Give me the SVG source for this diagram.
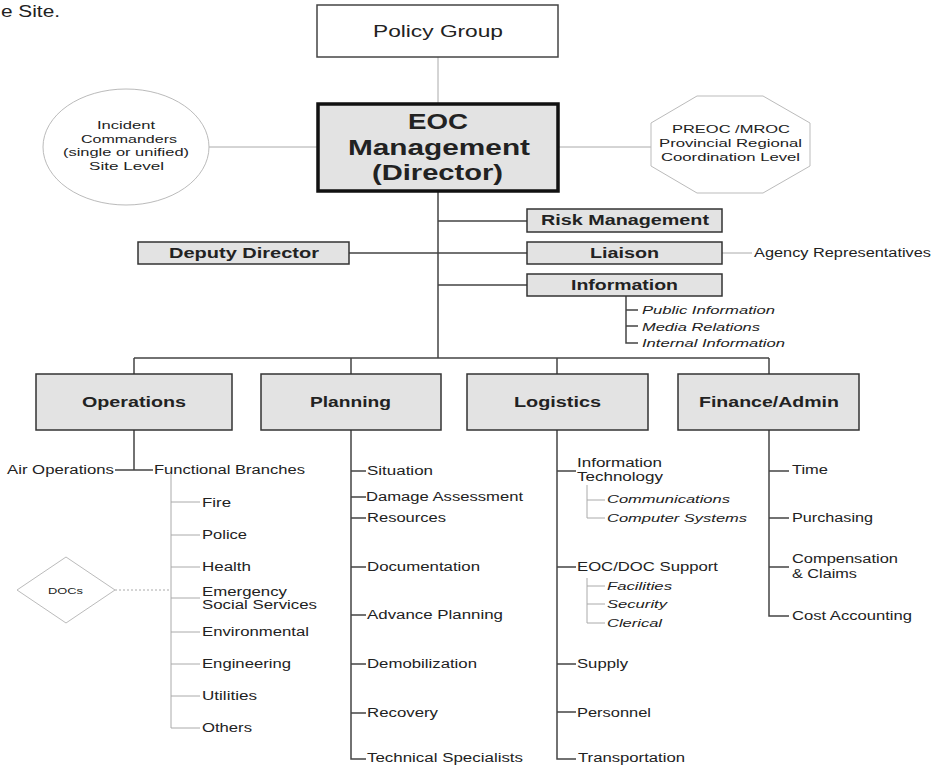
<svg xmlns="http://www.w3.org/2000/svg" width="934" height="766" viewBox="0 0 934 766">
<style>
.box{fill:#e3e3e3;stroke:#333;stroke-width:1.5}
.eoc{fill:#e3e3e3;stroke:#111;stroke-width:3.5}
.wbox{fill:#fff;stroke:#444;stroke-width:1.5}
.shape{fill:#fff;stroke:#bbb;stroke-width:1}
.ln{stroke:#444;stroke-width:1.5;fill:none}
.lt{stroke:#aaa;stroke-width:1;fill:none}
.ld{stroke:#aaa;stroke-width:1;fill:none;stroke-dasharray:2 2}
text{font-family:"Liberation Sans",Arial,sans-serif;font-size:12px;fill:#222}
.b{font-weight:bold;font-size:14px}
.it{font-style:italic;font-size:11.5px}
.sm{font-size:10.5px}
</style>
<rect width="934" height="766" fill="#fff"/>
<text x="1" y="17" style="font-size:16px" textLength="59" lengthAdjust="spacingAndGlyphs">e Site.</text>

<g id="connectors">
<path class="lt" d="M438,57V104M208,147H318M558,147H651M722,253H752"/>
<path class="ln" d="M438,191V358M438,221H527M349,253H527M438,285H527"/>
<path class="ln" d="M626,296V343H638M626,310H638M626,326H638"/>
<path class="ln" d="M134,358H769M134,358V374M351,358V374M557,358V374M769,358V374"/>
<path class="ln" d="M134,430V470M115,470H153"/>
<path class="lt" d="M171,474V728H200M171,502H200M171,535H200M171,567H200M171,598H200M171,632H200M171,664H200M171,696H200"/>
<path class="ld" d="M115,590H171"/>
<path class="ln" d="M351,430V759H366M351,471H366M351,497H366M351,518H366M351,567H366M351,615H366M351,664H366M351,713H366"/>
<path class="ln" d="M557,430V759H576M557,471H576M557,567H576M557,664H576M557,712H576"/>
<path class="lt" d="M587,485V518H605M587,500H605M587,578V623H605M587,586H605M587,604H605"/>
<path class="ln" d="M769,430V616H789M769,471H789M769,518H789M769,567H789"/>
</g>

<g id="policy"><rect class="wbox" x="317" y="5" width="241" height="52"/>
<text x="373" y="37" style="font-size:16px" textLength="130" lengthAdjust="spacingAndGlyphs">Policy Group</text></g>

<g id="eoc"><rect class="eoc" x="318" y="104" width="240" height="87"/>
<text x="408" y="129" style="font-size:22px;font-weight:bold" textLength="60" lengthAdjust="spacingAndGlyphs">EOC</text>
<text x="348" y="155" style="font-size:22px;font-weight:bold" textLength="182" lengthAdjust="spacingAndGlyphs">Management</text>
<text x="372" y="180" style="font-size:22px;font-weight:bold" textLength="131" lengthAdjust="spacingAndGlyphs">(Director)</text></g>

<g id="incident"><ellipse class="shape" cx="126" cy="147" rx="83" ry="58"/>
<text class="sm" x="97" y="129" textLength="58" lengthAdjust="spacingAndGlyphs">Incident</text>
<text class="sm" x="81" y="143" textLength="96" lengthAdjust="spacingAndGlyphs">Commanders</text>
<text class="sm" x="63" y="156" textLength="126" lengthAdjust="spacingAndGlyphs">(single or unified)</text>
<text class="sm" x="89" y="170" textLength="75" lengthAdjust="spacingAndGlyphs">Site Level</text></g>

<g id="preoc"><polygon class="shape" points="697,96 763,96 810,123 810,166 763,193 697,193 651,166 651,123"/>
<text class="sm" x="672" y="133" textLength="118" lengthAdjust="spacingAndGlyphs">PREOC /MROC</text>
<text class="sm" x="659" y="147" textLength="143" lengthAdjust="spacingAndGlyphs">Provincial Regional</text>
<text class="sm" x="661" y="161" textLength="139" lengthAdjust="spacingAndGlyphs">Coordination Level</text></g>

<g id="risk"><rect class="box" x="527" y="209" width="195" height="23"/>
<text class="b" x="541" y="225" textLength="168" lengthAdjust="spacingAndGlyphs">Risk Management</text></g>
<g id="liaison"><rect class="box" x="527" y="242" width="195" height="22"/>
<text class="b" x="590" y="258" textLength="69" lengthAdjust="spacingAndGlyphs">Liaison</text></g>
<g id="agency"><text x="754" y="257" textLength="177" lengthAdjust="spacingAndGlyphs">Agency Representatives</text></g>
<g id="information"><rect class="box" x="527" y="274" width="195" height="22"/>
<text class="b" x="571" y="290" textLength="107" lengthAdjust="spacingAndGlyphs">Information</text></g>
<g id="info-subs">
<text class="it" x="642" y="314" textLength="133" lengthAdjust="spacingAndGlyphs">Public Information</text>
<text class="it" x="642" y="331" textLength="118" lengthAdjust="spacingAndGlyphs">Media Relations</text>
<text class="it" x="642" y="347" textLength="143" lengthAdjust="spacingAndGlyphs">Internal Information</text></g>
<g id="deputy"><rect class="box" x="138" y="242" width="211" height="22"/>
<text class="b" x="169" y="258" textLength="150" lengthAdjust="spacingAndGlyphs">Deputy Director</text></g>

<g id="operations"><rect class="box" x="36" y="374" width="196" height="56"/>
<text class="b" x="82" y="407" textLength="104" lengthAdjust="spacingAndGlyphs">Operations</text></g>
<g id="planning"><rect class="box" x="261" y="374" width="180" height="56"/>
<text class="b" x="310" y="407" textLength="81" lengthAdjust="spacingAndGlyphs">Planning</text></g>
<g id="logistics"><rect class="box" x="467" y="374" width="181" height="56"/>
<text class="b" x="514" y="407" textLength="87" lengthAdjust="spacingAndGlyphs">Logistics</text></g>
<g id="finance"><rect class="box" x="678" y="374" width="181" height="56"/>
<text class="b" x="699" y="407" textLength="140" lengthAdjust="spacingAndGlyphs">Finance/Admin</text></g>

<g id="ops-items">
<text x="7" y="474" textLength="107" lengthAdjust="spacingAndGlyphs">Air Operations</text>
<text x="154" y="474" textLength="151" lengthAdjust="spacingAndGlyphs">Functional Branches</text>
<text x="202" y="507" textLength="29" lengthAdjust="spacingAndGlyphs">Fire</text>
<text x="202" y="539" textLength="45" lengthAdjust="spacingAndGlyphs">Police</text>
<text x="202" y="571" textLength="49" lengthAdjust="spacingAndGlyphs">Health</text>
<text x="202" y="596" textLength="85" lengthAdjust="spacingAndGlyphs">Emergency</text>
<text x="202" y="609" textLength="115" lengthAdjust="spacingAndGlyphs">Social Services</text>
<text x="202" y="636" textLength="107" lengthAdjust="spacingAndGlyphs">Environmental</text>
<text x="202" y="668" textLength="89" lengthAdjust="spacingAndGlyphs">Engineering</text>
<text x="202" y="700" textLength="55" lengthAdjust="spacingAndGlyphs">Utilities</text>
<text x="202" y="732" textLength="50" lengthAdjust="spacingAndGlyphs">Others</text></g>

<g id="docs"><polygon class="shape" points="66,557 115,590 66,623 17,590"/>
<text x="48" y="594" style="font-size:9px" textLength="35" lengthAdjust="spacingAndGlyphs">DOCs</text></g>

<g id="planning-items">
<text x="367" y="475" textLength="66" lengthAdjust="spacingAndGlyphs">Situation</text>
<text x="366" y="501" textLength="157" lengthAdjust="spacingAndGlyphs">Damage Assessment</text>
<text x="367" y="522" textLength="79" lengthAdjust="spacingAndGlyphs">Resources</text>
<text x="367" y="571" textLength="113" lengthAdjust="spacingAndGlyphs">Documentation</text>
<text x="367" y="619" textLength="136" lengthAdjust="spacingAndGlyphs">Advance Planning</text>
<text x="367" y="668" textLength="110" lengthAdjust="spacingAndGlyphs">Demobilization</text>
<text x="367" y="717" textLength="71" lengthAdjust="spacingAndGlyphs">Recovery</text>
<text x="367" y="762" textLength="156" lengthAdjust="spacingAndGlyphs">Technical Specialists</text></g>

<g id="logistics-items">
<text x="577" y="467" textLength="85" lengthAdjust="spacingAndGlyphs">Information</text>
<text x="577" y="481" textLength="86" lengthAdjust="spacingAndGlyphs">Technology</text>
<text class="it" x="607" y="503" textLength="123" lengthAdjust="spacingAndGlyphs">Communications</text>
<text class="it" x="607" y="522" textLength="140" lengthAdjust="spacingAndGlyphs">Computer Systems</text>
<text x="577" y="571" textLength="141" lengthAdjust="spacingAndGlyphs">EOC/DOC Support</text>
<text class="it" x="607" y="590" textLength="65" lengthAdjust="spacingAndGlyphs">Facilities</text>
<text class="it" x="607" y="608" textLength="60" lengthAdjust="spacingAndGlyphs">Security</text>
<text class="it" x="607" y="627" textLength="55" lengthAdjust="spacingAndGlyphs">Clerical</text>
<text x="577" y="668" textLength="51" lengthAdjust="spacingAndGlyphs">Supply</text>
<text x="577" y="717" textLength="74" lengthAdjust="spacingAndGlyphs">Personnel</text>
<text x="578" y="762" textLength="107" lengthAdjust="spacingAndGlyphs">Transportation</text></g>

<g id="finance-items">
<text x="792" y="474" textLength="36" lengthAdjust="spacingAndGlyphs">Time</text>
<text x="792" y="522" textLength="81" lengthAdjust="spacingAndGlyphs">Purchasing</text>
<text x="792" y="563" textLength="106" lengthAdjust="spacingAndGlyphs">Compensation</text>
<text x="792" y="578" textLength="65" lengthAdjust="spacingAndGlyphs">&amp; Claims</text>
<text x="792" y="620" textLength="120" lengthAdjust="spacingAndGlyphs">Cost Accounting</text></g>
</svg>
